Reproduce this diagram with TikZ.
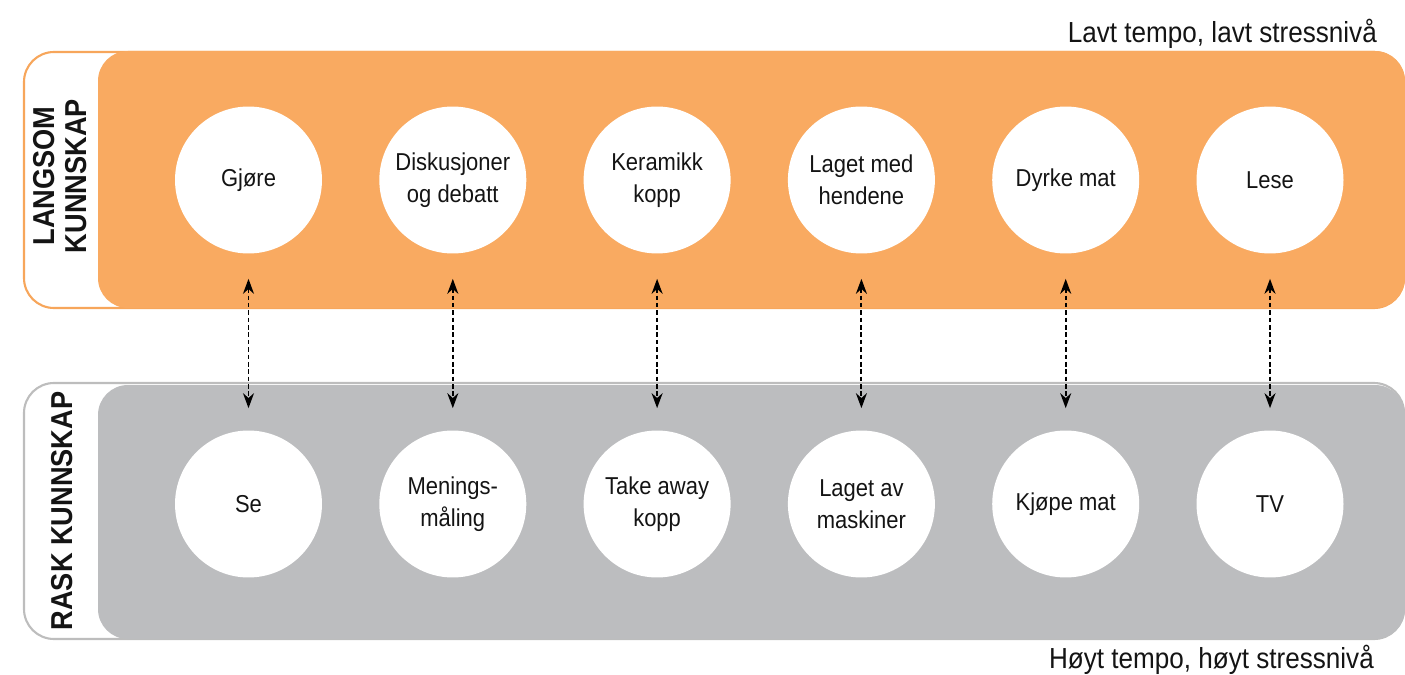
\documentclass[tikz,border=0pt]{standalone}
\usepackage{fontspec}
\setmainfont{Liberation Sans}[FakeStretch=0.9]
\usetikzlibrary{arrows.meta}
\definecolor{slowfill}{HTML}{F9AA61}
\definecolor{slowline}{HTML}{F7A65B}
\definecolor{fastfill}{HTML}{BCBDBF}
\definecolor{fastline}{HTML}{BDBDBD}
\definecolor{ink}{HTML}{141414}
\tikzset{
  frame/.style={rounded corners=0.6cm, line width=1.2pt, fill=white},
  band/.style={rounded corners=0.6cm},
  item/.style={circle, fill=white, minimum size=2.94cm, inner sep=0pt,
    align=center, text=ink, font=\fontsize{13.9}{18.1}\selectfont},
  sidelabel/.style={rotate=90, align=center, text=ink,
    font=\fontsize{17.2}{18.1}\selectfont\bfseries},
  corner/.style={text=ink, font=\fontsize{16.5}{19}\selectfont, anchor=base east},
  link/.style={dash pattern=on 2.6pt off 1.6pt, line width=1.1pt, black,
    {Stealth[length=0.3cm,width=0.22cm]}-{Stealth[length=0.3cm,width=0.22cm]},
    shorten <=0.5cm, shorten >=0.44cm}
}
\begin{document}
\begin{tikzpicture}[x=0.02cm, y=-0.02cm]
\useasboundingbox (0,0) rectangle (1405,675);

% slow knowledge band
\draw[frame, draw=slowline] (24,52) rectangle (1404,308);
\fill[band, slowfill] (98,51) rectangle (1405,308);
\node[sidelabel] (slowlabel) at (60,176) {LANGSOM\\KUNNSKAP};

% fast knowledge band
\draw[frame, draw=fastline] (24,383) rectangle (1404,639);
\fill[band, fastfill] (98,385) rectangle (1405,639);
\node[sidelabel] (fastlabel) at (62,511) {RASK KUNNSKAP};

% pace captions
\node[corner] (slowpace) at (1383,43) {Lavt tempo, lavt stressnivå};
\node[corner] (fastpace) at (1380,668) {Høyt tempo, høyt stressnivå};

% activity circles
\foreach \i/\top/\bot in {1/Gjøre/Se,
  2/{Diskusjoner\\og debatt}/{Menings-\\måling},
  3/{Keramikk\\kopp}/{Take away\\kopp},
  4/{Laget med\\hendene}/{Laget av\\maskiner},
  5/{Dyrke mat}/{Kjøpe mat},
  6/Lese/TV}{
  \node[item] (t\i) at ({248.5+204.3*(\i-1)},180) {\top};
  \node[item] (b\i) at ({248.5+204.3*(\i-1)},504) {\bot};
  \draw[link] (t\i) -- (b\i);
}
\end{tikzpicture}
\end{document}
